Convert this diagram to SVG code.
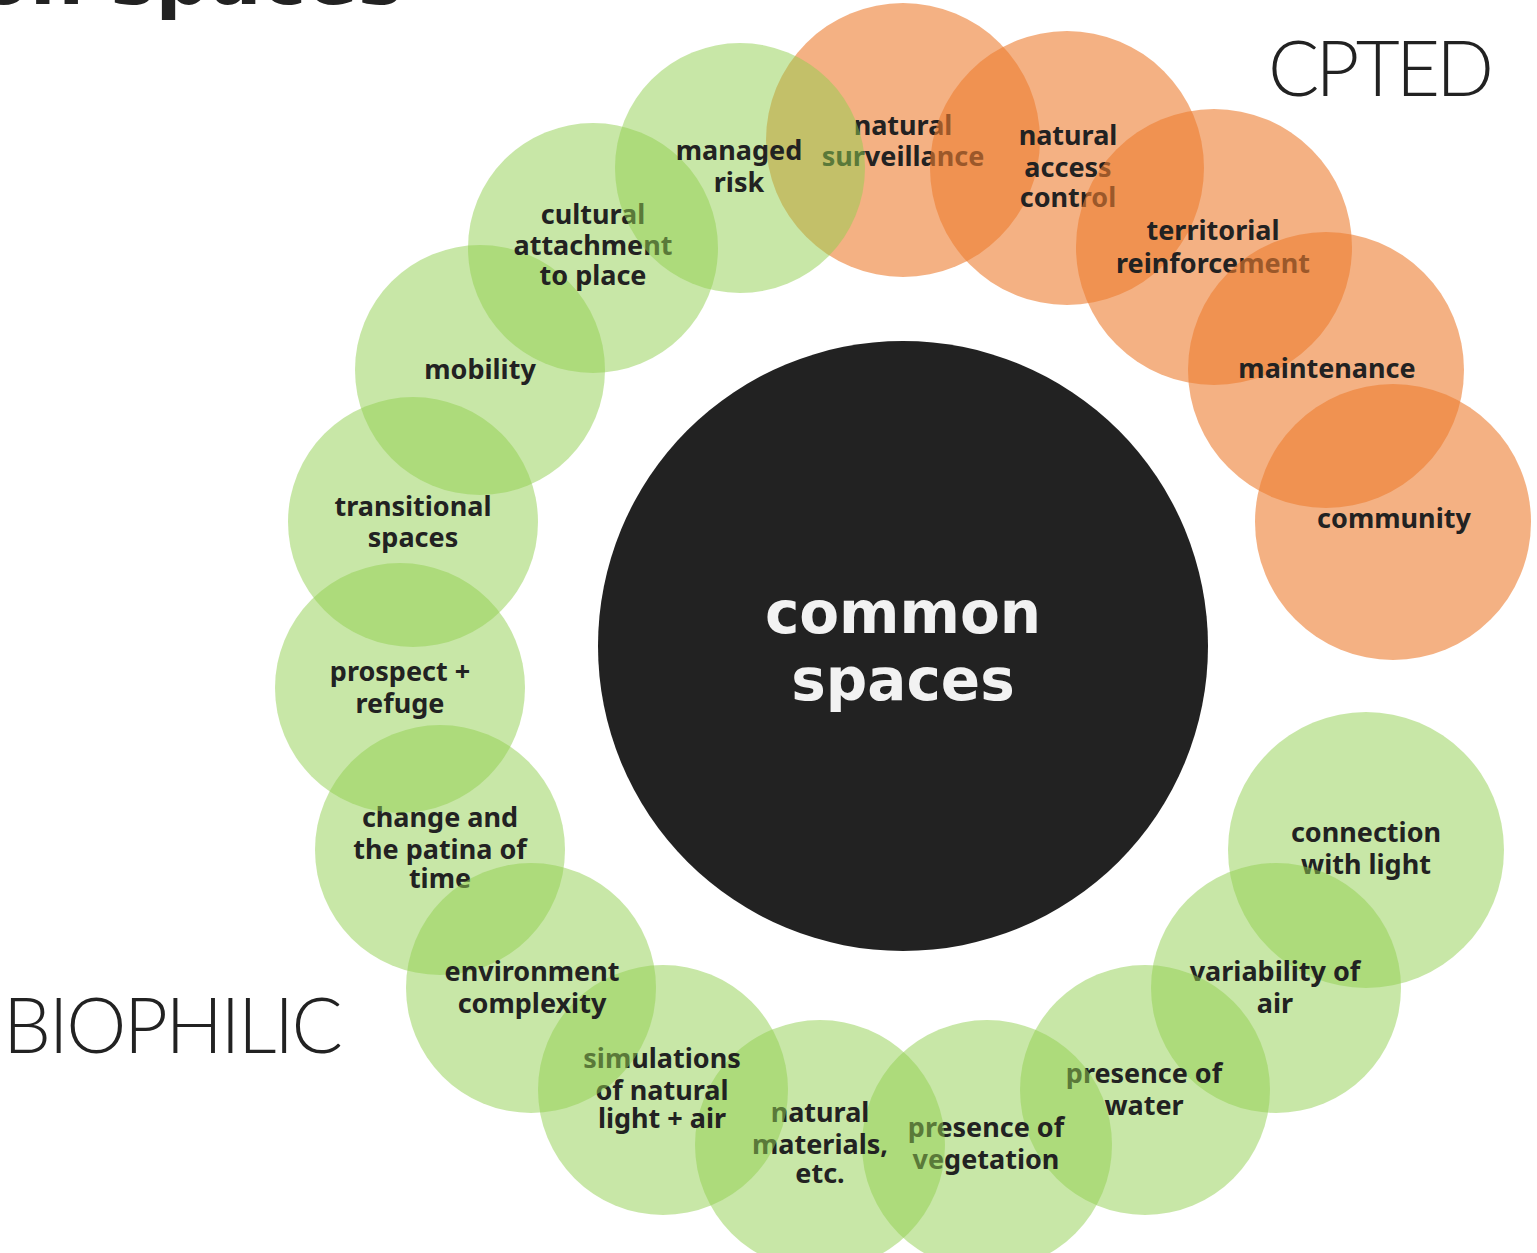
<svg xmlns="http://www.w3.org/2000/svg" width="1537" height="1253" viewBox="0 0 1537 1253">
<style>
.g{fill:#92D050;fill-opacity:0.5}
.o{fill:#ED7D31;fill-opacity:0.6}
.t{font-family:"Noto Sans","DejaVu Sans",sans-serif;font-weight:700;font-size:27px;fill:#222;text-anchor:middle}
.big{font-family:"Lato","Noto Sans",sans-serif;font-weight:300;font-size:76px;fill:#222}
.ctr{font-family:"DejaVu Sans",sans-serif;font-weight:700;font-size:58px;fill:#f2f2f2;text-anchor:middle}
</style>
<rect width="1537" height="1253" fill="#fff"/>
<text x="403" y="4" font-family="DejaVu Sans, sans-serif" font-weight="700" font-size="76" fill="#222" text-anchor="end">common spaces</text>
<text class="big" x="1268" y="96" textLength="226" lengthAdjust="spacing">CPTED</text>
<text class="big" x="3" y="1053" textLength="340" lengthAdjust="spacing">BIOPHILIC</text>

<g id="natural-surveillance"><circle class="o" cx="903" cy="140" r="137"/><text class="t" x="903"><tspan x="903" y="135">natural</tspan><tspan x="903" y="166">surveillance</tspan></text></g>
<g id="natural-access-control"><circle class="o" cx="1067" cy="168" r="137"/><text class="t"><tspan x="1068" y="145">natural</tspan><tspan x="1068" y="177">access</tspan><tspan x="1068" y="207">control</tspan></text></g>
<g id="territorial-reinforcement"><circle class="o" cx="1214" cy="247" r="138"/><text class="t"><tspan x="1213" y="240">territorial</tspan><tspan x="1213" y="273">reinforcement</tspan></text></g>
<g id="maintenance"><circle class="o" cx="1326" cy="370" r="138"/><text class="t" x="1327" y="378">maintenance</text></g>
<g id="community"><circle class="o" cx="1393" cy="522" r="138"/><text class="t" x="1394" y="528">community</text></g>

<g id="change-patina"><circle class="g" cx="440" cy="850" r="125"/><text class="t"><tspan x="440" y="827">change and</tspan><tspan x="440" y="859">the patina of</tspan><tspan x="440" y="888">time</tspan></text></g>
<g id="prospect-refuge"><circle class="g" cx="400" cy="688" r="125"/><text class="t"><tspan x="400" y="681">prospect +</tspan><tspan x="400" y="713">refuge</tspan></text></g>
<g id="transitional-spaces"><circle class="g" cx="413" cy="522" r="125"/><text class="t"><tspan x="413" y="516">transitional</tspan><tspan x="413" y="547">spaces</tspan></text></g>
<g id="mobility"><circle class="g" cx="480" cy="370" r="125"/><text class="t" x="480" y="379">mobility</text></g>
<g id="cultural-attachment"><circle class="g" cx="593" cy="248" r="125"/><text class="t"><tspan x="593" y="224">cultural</tspan><tspan x="593" y="255">attachment</tspan><tspan x="593" y="285">to place</tspan></text></g>
<g id="managed-risk"><circle class="g" cx="740" cy="168" r="125"/><text class="t"><tspan x="739" y="160">managed</tspan><tspan x="739" y="192">risk</tspan></text></g>

<g id="connection-light"><circle class="g" cx="1366" cy="850" r="138"/><text class="t"><tspan x="1366" y="842">connection</tspan><tspan x="1366" y="874">with light</tspan></text></g>
<g id="variability-air"><circle class="g" cx="1276" cy="988" r="125"/><text class="t"><tspan x="1275" y="981">variability of</tspan><tspan x="1275" y="1013">air</tspan></text></g>
<g id="presence-water"><circle class="g" cx="1145" cy="1090" r="125"/><text class="t"><tspan x="1144" y="1083">presence of</tspan><tspan x="1144" y="1115">water</tspan></text></g>
<g id="presence-vegetation"><circle class="g" cx="987" cy="1145" r="125"/><text class="t"><tspan x="986" y="1137">presence of</tspan><tspan x="986" y="1169">vegetation</tspan></text></g>
<g id="natural-materials"><circle class="g" cx="820" cy="1145" r="125"/><text class="t"><tspan x="820" y="1122">natural</tspan><tspan x="820" y="1154">materials,</tspan><tspan x="820" y="1183">etc.</tspan></text></g>
<g id="simulations"><circle class="g" cx="663" cy="1090" r="125"/><text class="t"><tspan x="662" y="1068">simulations</tspan><tspan x="662" y="1100">of natural</tspan><tspan x="662" y="1128">light + air</tspan></text></g>
<g id="environment-complexity"><circle class="g" cx="531" cy="988" r="125"/><text class="t"><tspan x="532" y="981">environment</tspan><tspan x="532" y="1013">complexity</tspan></text></g>

<g id="common-spaces"><circle cx="903" cy="646" r="305" fill="#222"/><text class="ctr"><tspan x="903" y="633">common</tspan><tspan x="903" y="700">spaces</tspan></text></g>
</svg>
